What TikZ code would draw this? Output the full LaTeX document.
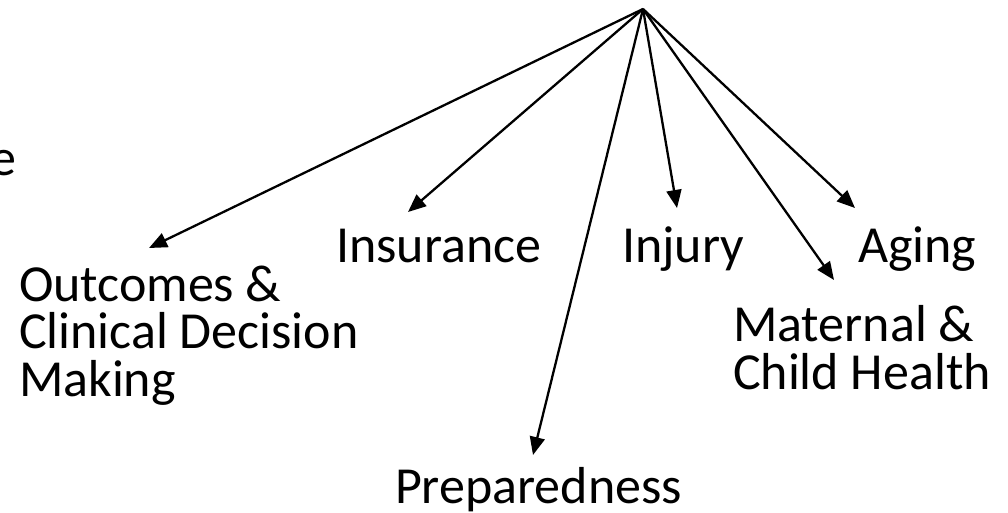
\documentclass[tikz,border=0pt]{standalone}
\usepackage{fontspec}
\setmainfont{Carlito}
\usetikzlibrary{arrows.meta}
\begin{document}
\begin{tikzpicture}[x=1pt,y=-1pt,
  lbl/.style={inner sep=0pt,outer sep=0pt,anchor=base west,align=left,
    font=\fontsize{52}{47.5}\selectfont},
  conn/.style={line width=2.3pt,-{Triangle[length=18pt,width=15pt]}}]
\useasboundingbox (0,0) rectangle (1008,512);
\fill[white] (0,0) rectangle (1008,512);
% partly visible texts at the edges
\node[lbl,anchor=base east] (ee) at (16,175) {e};
\node[lbl,text=red,font=\fontsize{52}{50}\selectfont\bfseries] (ry) at (704,-9) {y};
% labels
\node[lbl] (ins) at (336,262) {Insurance};
\node[lbl] (inj) at (622,262) {Injury};
\node[lbl] (age) at (858,262) {Aging};
\node[lbl] (out) at (19,396) {Outcomes \&\\Clinical Decision\\Making};
\node[lbl] (mat) at (733,389) {Maternal \&\\Child Health};
\node[lbl] (pre) at (395,503) {Preparedness};
% connectors
\coordinate (apex) at (643,9);
\coordinate (tout) at (149,248);
\coordinate (tins) at (408,212);
\coordinate (tpre) at (533,455);
\coordinate (tinj) at (677,208);
\coordinate (tmat) at (834,280);
\coordinate (tage) at (855,208);
\draw[conn] (apex) -- (tout);
\draw[conn] (apex) -- (tins);
\draw[conn] (apex) -- (tpre);
\draw[conn] (apex) -- (tinj);
\draw[conn] (apex) -- (tmat);
\draw[conn] (apex) -- (tage);
\end{tikzpicture}
\end{document}
